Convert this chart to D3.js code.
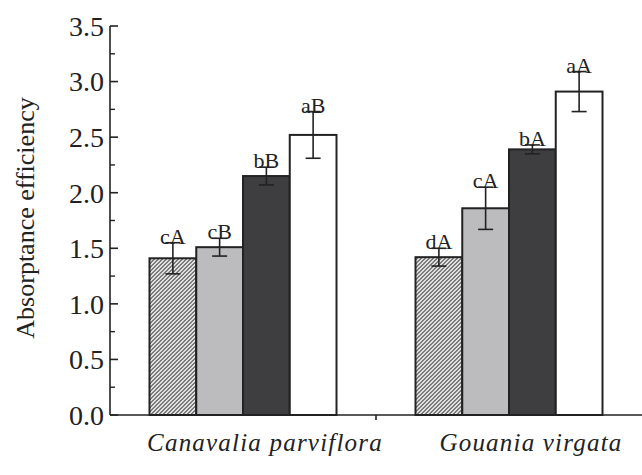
<!DOCTYPE html>
<html>
<head>
<meta charset="utf-8">
<script src="https://cdn.jsdelivr.net/npm/d3@7"></script>
<style>
  body { margin: 0; background: #fff; }
  text { fill: #222; }
</style>
</head>
<body>
<div id="vis-holder"></div>
<script>
// Chart data
const species = ["Canavalia parviflora", "Gouania virgata"];
const treatments = ["t1", "t2", "t3", "t4"];
const means = [
  [1.41, 1.51, 2.15, 2.52],
  [1.42, 1.86, 2.39, 2.91]
];
const errors = [
  [0.14, 0.08, 0.08, 0.21],
  [0.08, 0.19, 0.04, 0.18]
];
const letters = [
  ["cA", "cB", "bB", "aB"],
  ["dA", "cA", "bA", "aA"]
];
const yTicks = [0, 0.5, 1.0, 1.5, 2.0, 2.5, 3.0, 3.5];

// Set dimensions
const width = 642;
const height = 475;
const margin = { top: 26, right: 0, bottom: 45, left: 110 };

const fills = ["url(#hatch)", "#bcbcbe", "#3e3e41", "#ffffff"];

const svg = d3.select("#vis-holder")
  .append("svg")
  .attr("width", width)
  .attr("height", height)
  .attr("font-family", "'Liberation Serif', 'Times New Roman', serif");

// Hatch pattern for the first treatment
const pat = svg.append("defs").append("pattern")
  .attr("id", "hatch")
  .attr("patternUnits", "userSpaceOnUse")
  .attr("width", 4)
  .attr("height", 4);
pat.append("rect").attr("width", 4).attr("height", 4).attr("fill", "#fff");
pat.append("path")
  .attr("d", "M-1,1 l2,-2 M0,4 l4,-4 M3,5 l2,-2")
  .attr("stroke", "#333")
  .attr("stroke-width", 1.2);

// Scales
const x0 = d3.scaleBand()
  .domain(species)
  .range([margin.left, width - margin.right])
  .paddingInner(0);

const x1 = d3.scaleBand()
  .domain(treatments)
  .range([0, 187])
  .padding(0);

const y = d3.scaleLinear()
  .domain([0, 3.5])
  .range([height - margin.bottom - 15, margin.top]);

const y0 = y(0);

// Bars
species.forEach((sp, i) => {
  const gx = x0(sp) + (x0.bandwidth() - 187) / 2;
  const g = svg.append("g").attr("transform", `translate(${gx},0)`);

  g.selectAll("rect")
    .data(means[i])
    .enter()
    .append("rect")
    .attr("x", (d, j) => x1(treatments[j]))
    .attr("y", (d) => y(d))
    .attr("width", x1.bandwidth())
    .attr("height", (d) => y0 - y(d))
    .attr("fill", (d, j) => fills[j])
    .attr("stroke", "#222")
    .attr("stroke-width", 2);

  // Error bars
  means[i].forEach((m, j) => {
    const cx = x1(treatments[j]) + x1.bandwidth() / 2;
    const e = errors[i][j];
    g.append("line")
      .attr("x1", cx).attr("x2", cx)
      .attr("y1", y(m - e)).attr("y2", y(m + e))
      .attr("stroke", "#222").attr("stroke-width", 1.6);
    [m - e, m + e].forEach((v) => {
      g.append("line")
        .attr("x1", cx - 7.5).attr("x2", cx + 7.5)
        .attr("y1", y(v)).attr("y2", y(v))
        .attr("stroke", "#222").attr("stroke-width", 1.6);
    });
    g.append("text")
      .attr("x", cx)
      .attr("y", y(m + e) + 1)
      .attr("text-anchor", "middle")
      .attr("font-size", "22px")
      .text(letters[i][j]);
  });
});

// Y axis
const yAxis = svg.append("g")
  .attr("transform", `translate(${margin.left},0)`);
yAxis.append("line")
  .attr("x1", 0).attr("x2", 0)
  .attr("y1", y(3.5)).attr("y2", y0)
  .attr("stroke", "#222").attr("stroke-width", 1.6);
yAxis.selectAll(".major")
  .data(yTicks)
  .enter()
  .append("line")
  .attr("x1", 0).attr("x2", 8)
  .attr("y1", (d) => y(d)).attr("y2", (d) => y(d))
  .attr("stroke", "#222").attr("stroke-width", 1.6);
yAxis.selectAll(".minor")
  .data(yTicks.slice(0, -1))
  .enter()
  .append("line")
  .attr("x1", 0).attr("x2", 5)
  .attr("y1", (d) => y(d + 0.25)).attr("y2", (d) => y(d + 0.25))
  .attr("stroke", "#222").attr("stroke-width", 1.4);
yAxis.selectAll(".lbl")
  .data(yTicks)
  .enter()
  .append("text")
  .attr("x", -6)
  .attr("y", (d) => y(d))
  .attr("dy", "0.35em")
  .attr("text-anchor", "end")
  .attr("font-size", "28px")
  .text((d) => d.toFixed(1));

svg.append("text")
  .attr("transform", `translate(34,218) rotate(-90)`)
  .attr("text-anchor", "middle")
  .attr("font-size", "26px")
  .text("Absorptance efficiency");

// X axis
svg.append("line")
  .attr("x1", margin.left).attr("x2", width)
  .attr("y1", y0).attr("y2", y0)
  .attr("stroke", "#222").attr("stroke-width", 1.6);
svg.append("line")
  .attr("x1", x0(species[1])).attr("x2", x0(species[1]))
  .attr("y1", y0).attr("y2", y0 + 5)
  .attr("stroke", "#222").attr("stroke-width", 1.6);

svg.selectAll(".cat")
  .data(species)
  .enter()
  .append("text")
  .attr("x", (d) => x0(d) + x0.bandwidth() / 2 + 22)
  .attr("y", y0 + 36)
  .attr("text-anchor", "middle")
  .attr("font-size", "25px")
  .attr("font-style", "italic")
  .attr("letter-spacing", "1.2px")
  .text((d) => d);
</script>
</body>
</html>
